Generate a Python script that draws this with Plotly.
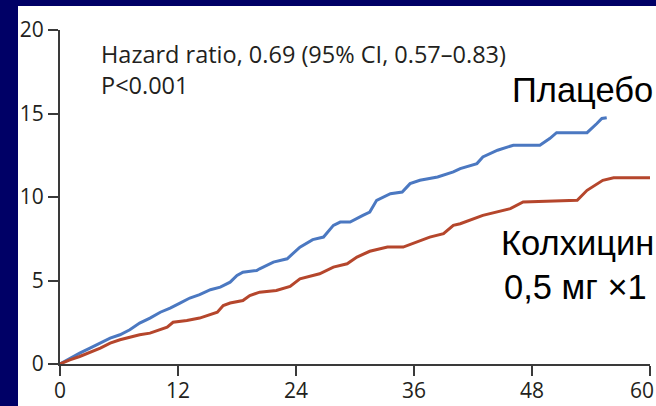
import plotly.graph_objects as go

# Data (months, cumulative incidence %)
placebo_months = [0, 1.0, 2.0, 3.05, 4.1, 5.1, 6.1, 7.1, 8.1, 9.15, 10.2, 11.2, 12.2, 13.2, 14.2,
                  15.3, 16.3, 17.3, 18.0, 18.6, 20.0, 20.3, 21.7, 23.1, 24.4, 25.7, 26.8, 27.8, 28.5,
                  29.5, 30.8, 31.5, 32.2, 33.6, 34.8, 35.6, 36.6, 38.4, 40.0, 40.7, 42.4, 43.0, 44.5,
                  46.1, 48.8, 49.8, 50.5, 53.6, 54.6, 55.1, 55.6]
placebo_values = [0, 0.35, 0.65, 0.95, 1.25, 1.55, 1.75, 2.05, 2.45, 2.75, 3.1, 3.35, 3.65, 3.95,
                  4.15, 4.45, 4.6, 4.9, 5.3, 5.5, 5.6, 5.7, 6.1, 6.3, 7.0, 7.45, 7.6, 8.3, 8.5, 8.5,
                  8.9, 9.1, 9.8, 10.2, 10.3, 10.8, 11.0, 11.2, 11.5, 11.7, 12.0, 12.4, 12.8, 13.1,
                  13.1, 13.5, 13.85, 13.85, 14.4, 14.7, 14.75]

colch_months = [0, 1.0, 2.0, 3.05, 4.1, 5.1, 6.1, 7.1, 8.1, 9.15, 10.2, 10.9, 11.5, 12.9, 14.2, 15.3,
                16.0, 16.6, 17.3, 18.6, 19.3, 20.3, 22.0, 23.4, 24.4, 26.4, 27.8, 29.2, 30.2, 31.5,
                33.3, 34.9, 36.3, 37.6, 39.0, 40.0, 40.7, 43.0, 45.8, 47.1, 52.6, 53.6, 55.2, 56.3,
                60]
colch_values = [0, 0.25, 0.45, 0.7, 0.95, 1.25, 1.45, 1.6, 1.75, 1.85, 2.05, 2.2, 2.5, 2.6, 2.75,
                2.95, 3.1, 3.5, 3.65, 3.8, 4.1, 4.3, 4.4, 4.65, 5.1, 5.4, 5.8, 6.0, 6.4, 6.75, 7.0,
                7.0, 7.3, 7.6, 7.8, 8.3, 8.4, 8.9, 9.3, 9.7, 9.8, 10.4, 11.0, 11.15, 11.15]

x_ticks = [0, 12, 24, 36, 48, 60]
y_ticks = [0, 5, 10, 15, 20]

hr_text = "Hazard ratio, 0.69 (95% CI, 0.57\u20130.83)"
p_text = "P<0.001"
placebo_label = "Плацебо"
colch_label_1 = "Колхицин"
colch_label_2 = "0,5 мг ×1"

# ---- layout geometry (pixels) ----
W, H = 656, 406
ML, MR, MT, MB = 60, 6, 30, 42
WP, HP = W - ML - MR, H - MT - MB


def px_x(px):
    return (px - ML) / WP


def px_y(py):
    return (H - MB - py) / HP


fig = go.Figure()
fig.add_trace(go.Scatter(x=placebo_months, y=placebo_values, mode="lines",
                         line=dict(color="#4B78C1", width=3), showlegend=False))
fig.add_trace(go.Scatter(x=colch_months, y=colch_values, mode="lines",
                         line=dict(color="#B5462C", width=3), showlegend=False))

axis_font = dict(family="Open Sans", size=21, color="#231F20")
fig.update_xaxes(range=[0, 60], tickvals=x_ticks, showticklabels=False,
                 showgrid=False, zeroline=False, showline=True, linecolor="#3A3A3A", linewidth=2,
                 ticks="outside", ticklen=10, tickwidth=2, tickcolor="#3A3A3A")
fig.update_yaxes(range=[0, 20], tickvals=y_ticks, ticktext=[str(t) for t in y_ticks],
                 showgrid=False, zeroline=False, showline=True, linecolor="#3A3A3A", linewidth=2,
                 ticks="outside", ticklen=10, tickwidth=2, tickcolor="#3A3A3A", tickfont=axis_font,
                 ticklabelstandoff=0)

# x tick labels (the last one sits against the page edge, as in the reference)
for i, t in enumerate(x_ticks):
    last = i == len(x_ticks) - 1
    fig.add_annotation(text=str(t), xref="x", yref="paper", x=t, y=px_y(390),
                       xanchor="right" if last else "center", xshift=5 if last else 0,
                       yanchor="middle", showarrow=False, font=axis_font, borderpad=0)

fig.add_shape(type="rect", xref="paper", yref="paper",
              x0=px_x(18), x1=px_x(656), y0=px_y(406), y1=px_y(6),
              fillcolor="white", line=dict(width=0), layer="below")

small = dict(family="Open Sans", size=23.5, color="#231F20")
fig.add_annotation(text=hr_text + "<br>" + p_text, xref="paper", yref="paper",
                   x=px_x(99), y=px_y(70), xanchor="left", yanchor="middle", align="left",
                   showarrow=False, font=small)
big = dict(family="Liberation Sans", size=34.5, color="black")
fig.add_annotation(text=placebo_label, xref="paper", yref="paper", x=px_x(582), y=px_y(90),
                   xanchor="center", yanchor="middle", showarrow=False, font=big)
fig.add_annotation(text=colch_label_1, xref="paper", yref="paper", x=px_x(577), y=px_y(243),
                   xanchor="center", yanchor="middle", showarrow=False, font=big)
fig.add_annotation(text=colch_label_2, xref="paper", yref="paper", x=px_x(575), y=px_y(287),
                   xanchor="center", yanchor="middle", showarrow=False, font=big)

fig.update_layout(width=W, height=H, margin=dict(l=ML, r=MR, t=MT, b=MB),
                  paper_bgcolor="#000066", plot_bgcolor="white")
fig.write_html("out.html")
